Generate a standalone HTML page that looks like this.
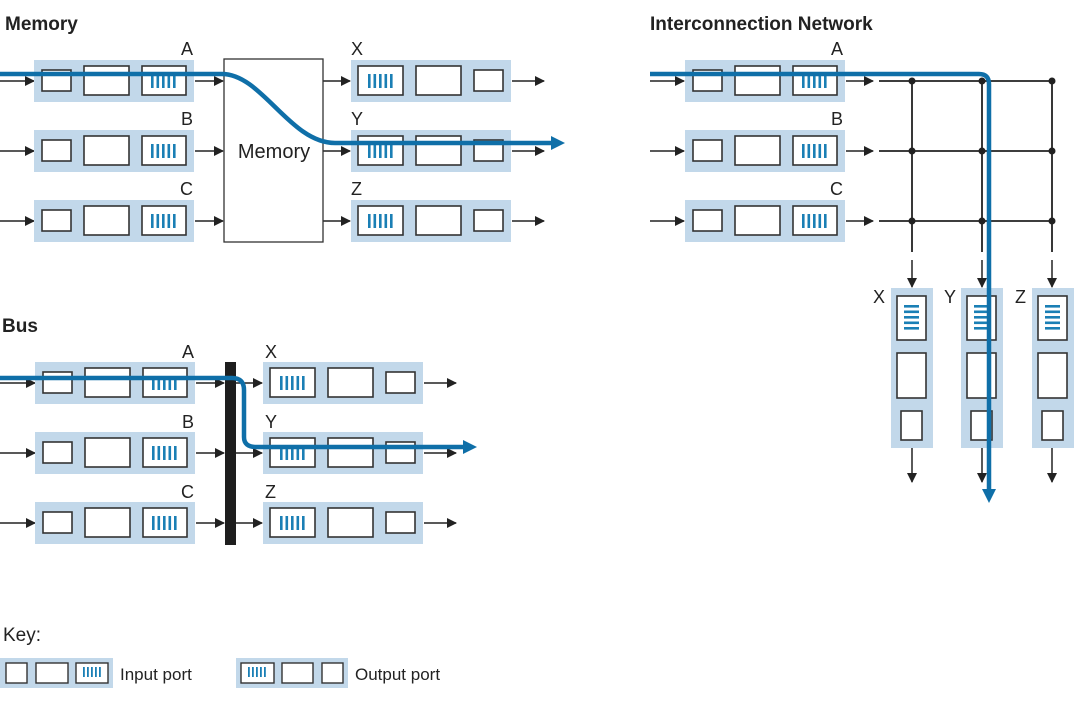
<!DOCTYPE html>
<html><head><meta charset="utf-8"><style>
html,body{margin:0;padding:0;background:#fff;width:1085px;height:702px;overflow:hidden}
svg{display:block}
text{font-family:"Liberation Sans","DejaVu Sans",sans-serif;fill:#222}
.t{font-weight:bold;font-size:19px}
.l{font-size:18px}
</style></head><body>
<svg width="1085" height="702" viewBox="0 0 1085 702" xmlns="http://www.w3.org/2000/svg">
<defs>
<marker id="ah" markerWidth="10" markerHeight="10" refX="9" refY="5" orient="auto" markerUnits="userSpaceOnUse">
<path d="M0,0 L10,5 L0,10 z" fill="#222"/></marker>
<g id="vs" fill="#1a7fb5"><rect x="0" y="0" width="2.6" height="14"/><rect x="5.5" y="0" width="2.6" height="14"/><rect x="11" y="0" width="2.6" height="14"/><rect x="16.5" y="0" width="2.6" height="14"/><rect x="22" y="0" width="2.6" height="14"/></g>
<g id="hs" fill="#1a7fb5"><rect x="0" y="0" width="15" height="2.6"/><rect x="0" y="5.5" width="15" height="2.6"/><rect x="0" y="11" width="15" height="2.6"/><rect x="0" y="16.5" width="15" height="2.6"/><rect x="0" y="22" width="15" height="2.6"/></g>
<g id="inp">
<rect x="0" y="0" width="160" height="42" fill="#c2d8ea"/>
<g fill="#fff" stroke="#333" stroke-width="1.6">
<rect x="8" y="10" width="29" height="21"/><rect x="50" y="6" width="45" height="29"/><rect x="108" y="6" width="44" height="29"/></g>
<use href="#vs" x="117" y="14"/>
</g>
<g id="outp">
<rect x="0" y="0" width="160" height="42" fill="#c2d8ea"/>
<g fill="#fff" stroke="#333" stroke-width="1.6">
<rect x="7" y="6" width="45" height="29"/><rect x="65" y="6" width="45" height="29"/><rect x="123" y="10" width="29" height="21"/></g>
<use href="#vs" x="17" y="14"/>
</g>
<g id="vp">
<rect x="0" y="0" width="42" height="160" fill="#c2d8ea"/>
<g fill="#fff" stroke="#333" stroke-width="1.6">
<rect x="6" y="8" width="29" height="44"/><rect x="6" y="65" width="29" height="45"/><rect x="10" y="123" width="21" height="29"/></g>
<use href="#hs" x="13" y="17"/>
</g>
</defs>

<!-- Memory section -->
<text class="t" x="5" y="30">Memory</text>
<g stroke="#222" stroke-width="1.5" marker-end="url(#ah)">
<line x1="0" y1="81" x2="34" y2="81"/><line x1="0" y1="151" x2="34" y2="151"/><line x1="0" y1="221" x2="34" y2="221"/>
<line x1="195" y1="81" x2="223" y2="81"/><line x1="195" y1="151" x2="223" y2="151"/><line x1="195" y1="221" x2="223" y2="221"/>
<line x1="323" y1="81" x2="350" y2="81"/><line x1="323" y1="151" x2="350" y2="151"/><line x1="323" y1="221" x2="350" y2="221"/>
<line x1="512" y1="81" x2="544" y2="81"/><line x1="512" y1="151" x2="544" y2="151"/><line x1="512" y1="221" x2="544" y2="221"/>
</g>
<use href="#inp" x="34" y="60"/><use href="#inp" x="34" y="130"/><use href="#inp" x="34" y="200"/>
<use href="#outp" x="351" y="60"/><use href="#outp" x="351" y="130"/><use href="#outp" x="351" y="200"/>
<rect x="224" y="59" width="99" height="183" fill="#fff" stroke="#333" stroke-width="1.3"/>
<text x="274" y="158" text-anchor="middle" style="font-size:20px">Memory</text>
<text class="l" x="193" y="55" text-anchor="end">A</text>
<text class="l" x="193" y="125" text-anchor="end">B</text>
<text class="l" x="193" y="195" text-anchor="end">C</text>
<text class="l" x="351" y="55">X</text>
<text class="l" x="351" y="125">Y</text>
<text class="l" x="351" y="195">Z</text>
<path d="M0,74 H222 C262,74 290,143 335,143 H552" fill="none" stroke="#0f6fa8" stroke-width="4.5"/>
<path d="M551,136 L565,143 L551,150 z" fill="#0f6fa8"/>

<!-- Bus section -->
<text class="t" x="2" y="332">Bus</text>
<g stroke="#222" stroke-width="1.5" marker-end="url(#ah)">
<line x1="0" y1="383" x2="35" y2="383"/><line x1="0" y1="453" x2="35" y2="453"/><line x1="0" y1="523" x2="35" y2="523"/>
<line x1="196" y1="383" x2="224" y2="383"/><line x1="196" y1="453" x2="224" y2="453"/><line x1="196" y1="523" x2="224" y2="523"/>
<line x1="236" y1="383" x2="262" y2="383"/><line x1="236" y1="453" x2="262" y2="453"/><line x1="236" y1="523" x2="262" y2="523"/>
<line x1="424" y1="383" x2="456" y2="383"/><line x1="424" y1="453" x2="456" y2="453"/><line x1="424" y1="523" x2="456" y2="523"/>
</g>
<use href="#inp" x="35" y="362"/><use href="#inp" x="35" y="432"/><use href="#inp" x="35" y="502"/>
<use href="#outp" x="263" y="362"/><use href="#outp" x="263" y="432"/><use href="#outp" x="263" y="502"/>
<rect x="225" y="362" width="11" height="183" fill="#1e1e1e"/>
<text class="l" x="194" y="358" text-anchor="end">A</text>
<text class="l" x="194" y="428" text-anchor="end">B</text>
<text class="l" x="194" y="498" text-anchor="end">C</text>
<text class="l" x="265" y="358">X</text>
<text class="l" x="265" y="428">Y</text>
<text class="l" x="265" y="498">Z</text>
<path d="M0,378 H232 Q244,378 244,390 V437 Q244,447 256,447 H464" fill="none" stroke="#0f6fa8" stroke-width="4.5"/>
<path d="M463,440 L477,447 L463,454 z" fill="#0f6fa8"/>

<!-- Interconnection network -->
<text class="t" x="650" y="30">Interconnection Network</text>
<g stroke="#222" stroke-width="1.5" marker-end="url(#ah)">
<line x1="650" y1="81" x2="684" y2="81"/><line x1="650" y1="151" x2="684" y2="151"/><line x1="650" y1="221" x2="684" y2="221"/>
<line x1="846" y1="81" x2="873" y2="81"/><line x1="846" y1="151" x2="873" y2="151"/><line x1="846" y1="221" x2="873" y2="221"/>
<line x1="912" y1="260" x2="912" y2="287"/><line x1="982" y1="260" x2="982" y2="287"/><line x1="1052" y1="260" x2="1052" y2="287"/>
<line x1="912" y1="448" x2="912" y2="482"/><line x1="982" y1="448" x2="982" y2="482"/><line x1="1052" y1="448" x2="1052" y2="482"/>
</g>
<g stroke="#222" stroke-width="1.8">
<line x1="879" y1="81" x2="1052" y2="81"/><line x1="879" y1="151" x2="1052" y2="151"/><line x1="879" y1="221" x2="1052" y2="221"/>
<line x1="912" y1="81" x2="912" y2="252"/><line x1="982" y1="81" x2="982" y2="252"/><line x1="1052" y1="81" x2="1052" y2="252"/>
</g>
<g fill="#222">
<circle cx="912" cy="81" r="3.5"/><circle cx="982" cy="81" r="3.5"/><circle cx="1052" cy="81" r="3.5"/>
<circle cx="912" cy="151" r="3.5"/><circle cx="982" cy="151" r="3.5"/><circle cx="1052" cy="151" r="3.5"/>
<circle cx="912" cy="221" r="3.5"/><circle cx="982" cy="221" r="3.5"/><circle cx="1052" cy="221" r="3.5"/>
</g>
<use href="#inp" x="685" y="60"/><use href="#inp" x="685" y="130"/><use href="#inp" x="685" y="200"/>
<use href="#vp" x="891" y="288"/><use href="#vp" x="961" y="288"/><use href="#vp" x="1032" y="288"/>
<text class="l" x="843" y="55" text-anchor="end">A</text>
<text class="l" x="843" y="125" text-anchor="end">B</text>
<text class="l" x="843" y="195" text-anchor="end">C</text>
<text class="l" x="873" y="303">X</text>
<text class="l" x="944" y="303">Y</text>
<text class="l" x="1015" y="303">Z</text>
<path d="M650,74 H979 Q989,74 989,84 V490" fill="none" stroke="#0f6fa8" stroke-width="4.5"/>
<path d="M982,489 L989,503 L996,489 z" fill="#0f6fa8"/>

<!-- Key -->
<text x="3" y="641" style="font-size:19px">Key:</text>
<rect x="0" y="658" width="113" height="30" fill="#c2d8ea"/>
<rect x="236" y="658" width="112" height="30" fill="#c2d8ea"/>
<g fill="#fff" stroke="#333" stroke-width="1.4">
<rect x="6" y="663" width="21" height="20"/><rect x="36" y="663" width="32" height="20"/><rect x="76" y="663" width="32" height="20"/>
<rect x="241" y="663" width="33" height="20"/><rect x="282" y="663" width="31" height="20"/><rect x="322" y="663" width="21" height="20"/>
</g>
<g fill="#1a7fb5">
<rect x="83" y="667" width="1.8" height="10"/><rect x="87" y="667" width="1.8" height="10"/><rect x="91" y="667" width="1.8" height="10"/><rect x="95" y="667" width="1.8" height="10"/><rect x="99" y="667" width="1.8" height="10"/>
<rect x="248" y="667" width="1.8" height="10"/><rect x="252" y="667" width="1.8" height="10"/><rect x="256" y="667" width="1.8" height="10"/><rect x="260" y="667" width="1.8" height="10"/><rect x="264" y="667" width="1.8" height="10"/>
</g>
<text x="120" y="680" style="font-size:17px">Input port</text>
<text x="355" y="680" style="font-size:17px">Output port</text>
</svg>
</body></html>
